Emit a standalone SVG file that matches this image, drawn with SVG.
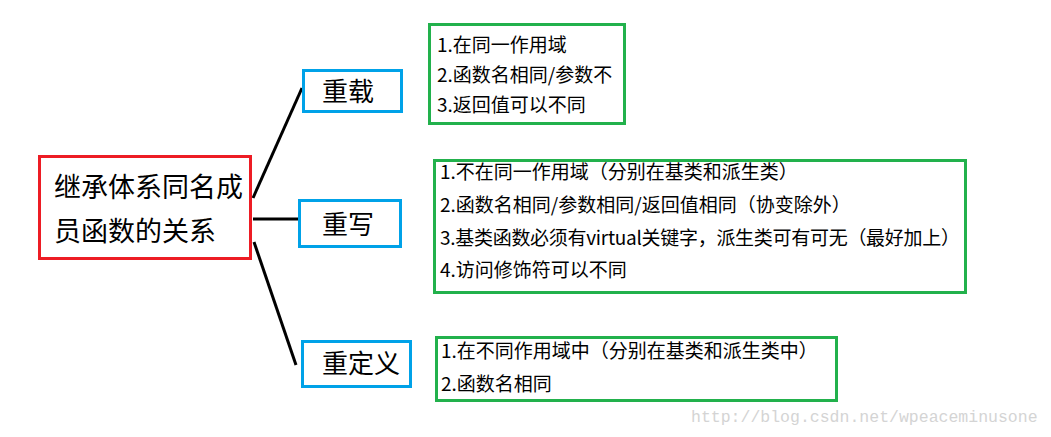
<svg xmlns="http://www.w3.org/2000/svg" width="1051" height="437" viewBox="0 0 1051 437">
<style>
text{font-family:"Noto Sans CJK SC","Noto Sans",sans-serif;fill:#000}
.main{fill:#fff;stroke:#ed1c24;stroke-width:3}
.cat{fill:#fff;stroke:#00a2e8;stroke-width:3}
.note{fill:#fff;stroke:#22b14c;stroke-width:3}
.big{font-size:26px}
.sm{font-size:19px}
.conn line{stroke:#000;stroke-width:3}
.wm{font-family:"Liberation Mono",monospace;font-size:16.5px;fill:#d4d4d4}
</style>
<rect width="1051" height="437" fill="#fff"/>
<g id="connectors" class="conn">
<line x1="253" y1="198" x2="302" y2="88"/>
<line x1="253" y1="219" x2="298" y2="219"/>
<line x1="254" y1="242" x2="296" y2="365"/>
</g>
<g id="root">
<rect class="main" x="39.5" y="156.5" width="211" height="102"/>
<text class="big" x="54" y="197" style="font-size:27px">继承体系同名成</text>
<text class="big" x="54" y="241" style="font-size:27px">员函数的关系</text>
</g>
<g id="overload">
<rect class="cat" x="303.5" y="70.5" width="98" height="41"/>
<text class="big" x="322" y="101">重载</text>
</g>
<g id="override">
<rect class="cat" x="299.5" y="200.5" width="101" height="46"/>
<text class="big" x="322" y="234">重写</text>
</g>
<g id="redefine">
<rect class="cat" x="302.5" y="341.5" width="108" height="45"/>
<text class="big" x="322" y="373">重定义</text>
</g>
<g id="note-overload">
<rect class="note" x="429.5" y="24.5" width="195" height="99"/>
<text class="sm" x="437" y="52">1.在同一作用域</text>
<text class="sm" x="437" y="82">2.函数名相同/参数不</text>
<text class="sm" x="437" y="112">3.返回值可以不同</text>
</g>
<g id="note-override">
<rect class="note" x="434.5" y="160.5" width="531" height="132"/>
<text class="sm" x="440" y="179">1.不在同一作用域（分别在基类和派生类）</text>
<text class="sm" x="440" y="212">2.函数名相同/参数相同/返回值相同（协变除外）</text>
<text class="sm" x="440" y="245" textLength="520">3.基类函数必须有virtual关键字，派生类可有可无（最好加上）</text>
<text class="sm" x="440" y="277">4.访问修饰符可以不同</text>
</g>
<g id="note-redefine">
<rect class="note" x="436.5" y="337.5" width="400" height="63"/>
<text class="sm" x="441" y="358">1.在不同作用域中（分别在基类和派生类中）</text>
<text class="sm" x="441" y="391">2.函数名相同</text>
</g>
<text class="wm" x="691" y="422">http://blog.csdn.net/wpeaceminusone</text>
</svg>
